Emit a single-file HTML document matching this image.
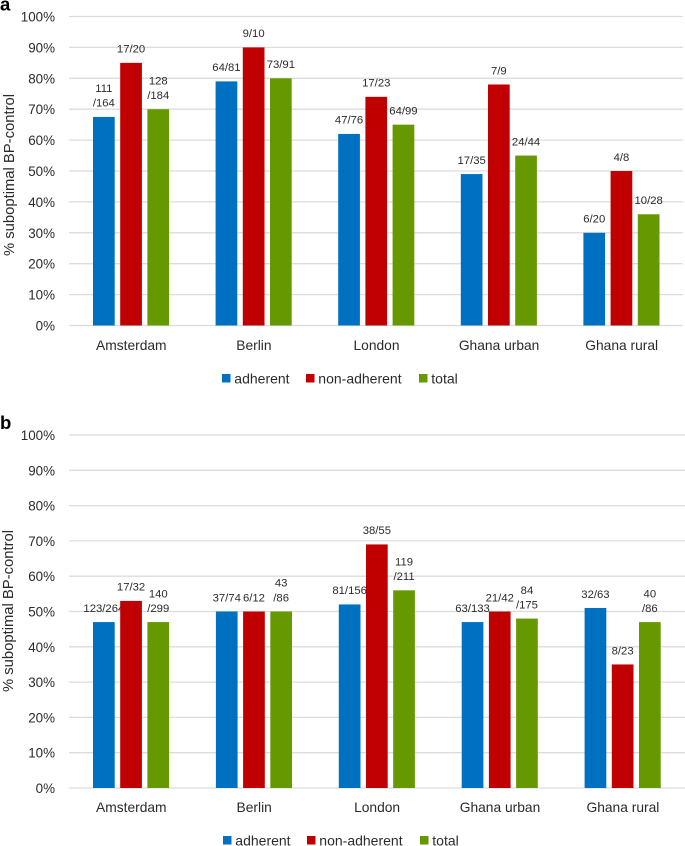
<!DOCTYPE html>
<html lang="en">
<head>
<meta charset="utf-8">
<title>Suboptimal BP-control by site</title>
<style>
html,body{margin:0;padding:0;background:#fff;}
#figure{display:block;width:685px;height:846px;}
text{font-family:"Liberation Sans",sans-serif;fill:#2b2b2b;}
</style>
</head>
<body>
<svg id="figure" xmlns="http://www.w3.org/2000/svg" width="685" height="846" viewBox="0 0 685 846"></svg>
<script>
const categories = ['Amsterdam', 'Berlin', 'London', 'Ghana urban', 'Ghana rural'];
const seriesNames = ['adherent', 'non-adherent', 'total'];
const seriesColors = ['#0070C0', '#C00000', '#669900'];
const tickValues = [0, 10, 20, 30, 40, 50, 60, 70, 80, 90, 100];

const panelAAdherent = [67.5, 79, 62, 49, 30];
const panelANonAdherent = [85, 90, 74, 78, 50];
const panelATotal = [70, 80, 65, 55, 36];
const panelAAdherentLabels = ['111\n/164', '64/81', '47/76', '17/35', '6/20'];
const panelANonAdherentLabels = ['17/20', '9/10', '17/23', '7/9', '4/8'];
const panelATotalLabels = ['128\n/184', '73/91', '64/99', '24/44', '10/28'];

const panelBAdherent = [47, 50, 52, 47, 51];
const panelBNonAdherent = [53, 50, 69, 50, 35];
const panelBTotal = [47, 50, 56, 48, 47];
const panelBAdherentLabels = ['123/264', '37/74', '81/156', '63/133', '32/63'];
const panelBNonAdherentLabels = ['17/32', '6/12', '38/55', '21/42', '8/23'];
const panelBTotalLabels = ['140\n/299', '43\n/86', '119\n/211', '84\n/175', '40\n/86'];

const svg = document.getElementById('figure');
const NS = 'http://www.w3.org/2000/svg';

function make(tag, parent) {
  const el = document.createElementNS(NS, tag);
  parent.appendChild(el);
  return el;
}

function drawPanel(p) {
  const group = make('g', svg);
  
  

  const y = v => p.y0 + (p.y100 - p.y0) * v / 100;
  const barX = (c, s) => p.firstBar + c * p.catStep + s * p.barStep;

  const letter = make('text', group);
  
  
  letter.setAttribute('x', 0);
  letter.setAttribute('y', p.letterY);
  letter.setAttribute('font-size', 18.5);
  letter.setAttribute('font-weight', 'bold');
  letter.style.fill = '#000';
  letter.textContent = p.id;

  tickValues.forEach(t => {
    const line = make('line', group);
    
    
    line.setAttribute('x1', 69);
    line.setAttribute('x2', p.right);
    line.setAttribute('y1', y(t));
    line.setAttribute('y2', y(t));
    line.setAttribute('stroke', '#DCDCDC');
    line.setAttribute('stroke-width', 1.3);

    const label = make('text', group);
    
    
    label.setAttribute('x', 55);
    label.setAttribute('y', y(t) + 5);
    label.setAttribute('text-anchor', 'end');
    label.setAttribute('font-size', 13.4);
    label.textContent = t + '%';
  });

  const title = make('text', group);
  
  
  title.setAttribute('transform', 'translate(' + p.titleX + ',' + p.titleY + ') rotate(-90)');
  title.setAttribute('text-anchor', 'middle');
  title.setAttribute('font-size', 14.8);
  title.textContent = '% suboptimal BP-control';

  categories.forEach((name, c) => {
    const label = make('text', group);
    
    
    label.setAttribute('x', p.firstBar + 38.3 + c * p.catStep);
    label.setAttribute('y', p.catY);
    label.setAttribute('text-anchor', 'middle');
    label.setAttribute('font-size', 13.8);
    label.textContent = name;
  });

  p.series.forEach((values, s) => {
    values.forEach((v, c) => {
      const bar = make('rect', group);
      
      
      bar.setAttribute('x', barX(c, s));
      bar.setAttribute('y', y(v));
      bar.setAttribute('width', 21.7);
      bar.setAttribute('height', y(0) - y(v));
      bar.setAttribute('fill', seriesColors[s]);

      const lines = p.labels[s][c].split('\n');
      lines.forEach((txt, i) => {
        const t = make('text', group);
        
        
        t.setAttribute('x', barX(c, s) + 10.85);
        t.setAttribute('y', y(v) - 10.2 - (lines.length - 1 - i) * 14.6);
        t.setAttribute('text-anchor', 'middle');
        t.setAttribute('font-size', 11.3);
        t.textContent = txt;
      });
    });
  });

  const legend = make('g', group);
  
  
  const legendOffsets = [0, 84, 197];
  seriesNames.forEach((name, s) => {
    const swatch = make('rect', legend);
    
    
    swatch.setAttribute('x', p.legendX + legendOffsets[s]);
    swatch.setAttribute('y', p.legendY - 4.5);
    swatch.setAttribute('width', 8.5);
    swatch.setAttribute('height', 8.5);
    swatch.setAttribute('fill', seriesColors[s]);

    const text = make('text', legend);
    
    
    text.setAttribute('x', p.legendX + legendOffsets[s] + 12.3);
    text.setAttribute('y', p.legendY + 5);
    text.setAttribute('font-size', 14);
    text.textContent = name;
  });
}

drawPanel({
  id: 'a', y0: 325.5, y100: 16.5, right: 683, firstBar: 93, catStep: 122.6, barStep: 27.2,
  letterY: 10.5, titleX: 14, titleY: 175, catY: 350, legendX: 222, legendY: 378.5,
  series: [panelAAdherent, panelANonAdherent, panelATotal],
  labels: [panelAAdherentLabels, panelANonAdherentLabels, panelATotalLabels]
});
drawPanel({
  id: 'b', y0: 788, y100: 435, right: 685, firstBar: 93, catStep: 122.9, barStep: 27.2,
  letterY: 429, titleX: 13, titleY: 611, catY: 812, legendX: 223, legendY: 840.5,
  series: [panelBAdherent, panelBNonAdherent, panelBTotal],
  labels: [panelBAdherentLabels, panelBNonAdherentLabels, panelBTotalLabels]
});
</script>
</body>
</html>
